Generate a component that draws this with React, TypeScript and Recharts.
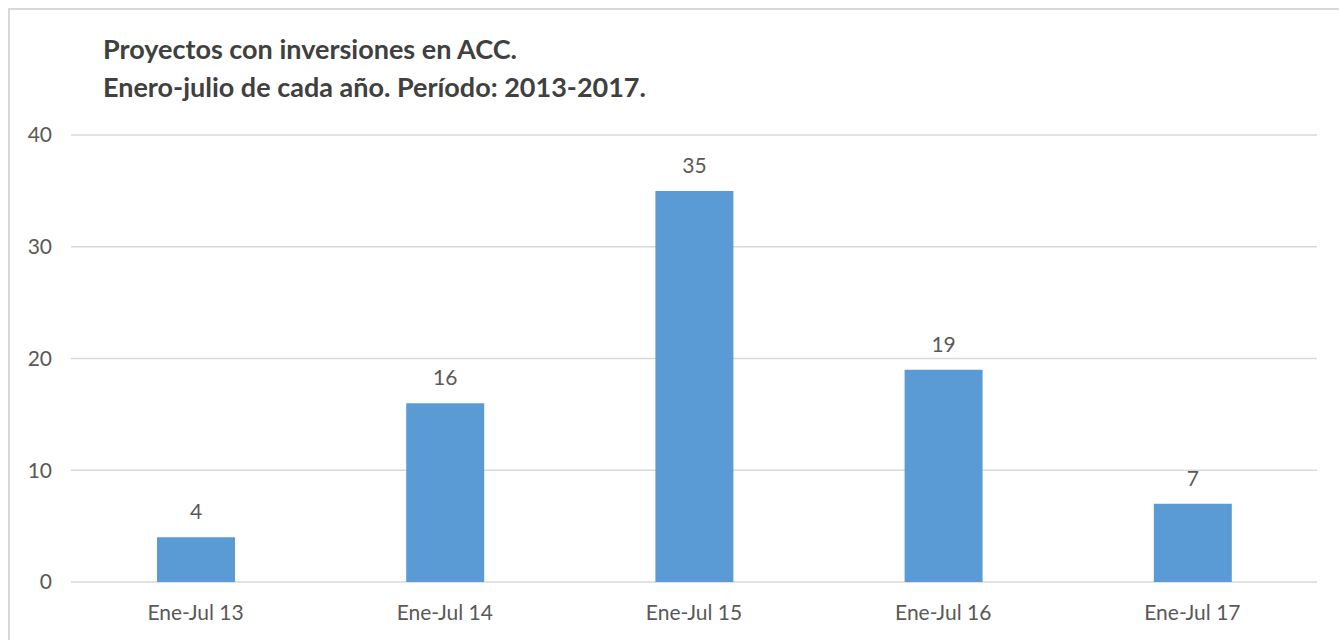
import React from "react";
import { BarChart, Bar, XAxis, YAxis, CartesianGrid, LabelList } from "recharts";

const categories = ["Ene-Jul 13", "Ene-Jul 14", "Ene-Jul 15", "Ene-Jul 16", "Ene-Jul 17"];
const proyectos = [4, 16, 35, 19, 7];
const yTicks = [0, 10, 20, 30, 40];
const titleLines = ["Proyectos con inversiones en ACC.", "Enero-julio de cada año. Período: 2013-2017."];

const data = categories.map((c, i) => ({ name: c, value: proyectos[i] }));

const FONT = "Lato, 'Open Sans', sans-serif";

export default function App() {
  return (
    <div
      style={{
        position: "fixed",
        left: 8,
        top: 8,
        width: 1331,
        height: 632,
        borderTop: "2px solid #d9d9d9",
        borderLeft: "2px solid #d9d9d9",
        boxSizing: "border-box",
        background: "#fff",
        fontFamily: FONT,
        overflow: "hidden",
      }}
    >
      <div
        style={{
          position: "absolute",
          left: 93,
          top: 20,
          fontSize: 27,
          fontWeight: 700,
          color: "#404040",
          lineHeight: "38px",
          fontFamily: FONT,
          whiteSpace: "nowrap",
        }}
      >
        {titleLines.map((t) => (
          <div key={t}>{t}</div>
        ))}
      </div>
      <BarChart
        width={1329}
        height={630}
        data={data}
        margin={{ top: 125, right: 22, bottom: 18, left: 0 }}
        barCategoryGap={0}
      >
        <CartesianGrid vertical={false} stroke="#d9d9d9" strokeWidth={1.3} />
        <XAxis
          dataKey="name"
          axisLine={false}
          tickLine={false}
          height={40}
          tickMargin={17}
          tick={{ fill: "#595959", fontSize: 21, fontFamily: FONT }}
        />
        <YAxis
          width={61}
          domain={[0, 40]}
          ticks={yTicks}
          axisLine={false}
          tickLine={false}
          tickMargin={13}
          tick={{ fill: "#595959", fontSize: 21, fontFamily: FONT }}
        />
        <Bar dataKey="value" fill="#5b9bd5" barSize={78} isAnimationActive={false}>
          <LabelList
            dataKey="value"
            position="top"
            offset={18}
            fill="#595959"
            fontSize={21}
            fontFamily={FONT}
          />
        </Bar>
      </BarChart>
    </div>
  );
}
